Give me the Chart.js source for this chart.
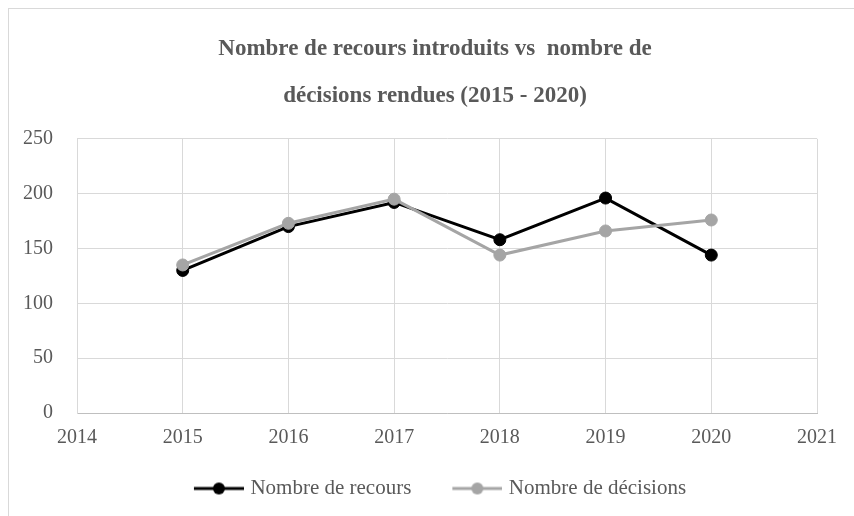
<!DOCTYPE html>
<html>
<head>
<meta charset="utf-8">
<script src="https://cdn.jsdelivr.net/npm/chart.js@4"></script>
<style>
    html, body { margin: 0; padding: 0; background: #fff; }
    #wrap { position: relative; width: 854px; height: 516px; }
    #frame { position: absolute; left: 8px; top: 8px; right: 0; bottom: 0; border-left: 1px solid #d9d9d9; border-top: 1px solid #d9d9d9; }
    canvas { position: absolute; left: 0; top: 0; }
</style>
</head>
<body>
<div id="wrap">
    <div id="frame"></div>
    <canvas id="chart" width="854" height="516"></canvas>
</div>
<script>
// data
const years = [2015, 2016, 2017, 2018, 2019, 2020];
const recours = [130, 170, 192, 158, 196, 144];
const decisions = [135, 173, 195, 144, 166, 176];
const yTicks = [0, 50, 100, 150, 200, 250];
const xMin = 2014;
const xMax = 2021;

const FONT = "'Liberation Serif', 'Times New Roman', serif";
const TEXT = '#595959';
const GRID = '#d9d9d9';
const BLACK = '#000000';
const GRAY = '#a5a5a5';

// "line with a dot" marker like the Excel legend; left part of the image is blank
// so the legend items sit further apart
function legendMarker(color) {
    const c = document.createElement('canvas');
    c.width = 64;
    c.height = 14;
    const g = c.getContext('2d');
    g.strokeStyle = color;
    g.lineWidth = 3;
    g.beginPath();
    g.moveTo(14, 7);
    g.lineTo(64, 7);
    g.stroke();
    g.fillStyle = color;
    g.beginPath();
    g.arc(39, 7, 6, 0, Math.PI * 2);
    g.fill();
    return c;
}

const series = [
    { label: 'Nombre de recours', values: recours, color: BLACK, order: 2 },
    { label: 'Nombre de décisions', values: decisions, color: GRAY, order: 1 }
];

new Chart(document.getElementById('chart').getContext('2d'), {
    type: 'line',
    data: {
        datasets: series.map(s => ({
            label: s.label,
            data: years.map((y, i) => ({ x: y, y: s.values[i] })),
            borderColor: s.color,
            backgroundColor: s.color,
            pointBackgroundColor: s.color,
            pointBorderColor: s.color,
            borderWidth: 3,
            pointRadius: 6,
            pointBorderWidth: 1,
            tension: 0,
            fill: false,
            order: s.order
        }))
    },
    options: {
        responsive: false,
        animation: false,
        layout: { padding: { top: 18, right: 0, bottom: 7, left: 16 } },
        scales: {
            x: {
                type: 'linear',
                min: xMin,
                max: xMax,
                afterFit: axis => { axis.height = 34; },
                ticks: {
                    stepSize: 1,
                    padding: 13,
                    color: TEXT,
                    font: { family: FONT, size: 20 },
                    callback: v => String(v)
                },
                grid: { color: GRID, lineWidth: 1, drawTicks: false },
                border: { color: '#bfbfbf', width: 1 }
            },
            y: {
                min: 0,
                max: 250,
                afterBuildTicks: axis => { axis.ticks = yTicks.map(v => ({ value: v })); },
                afterFit: axis => { axis.width = 61; },
                ticks: {
                    padding: 24,
                    color: TEXT,
                    font: { family: FONT, size: 20 }
                },
                grid: { color: GRID, lineWidth: 1, drawTicks: false },
                border: { color: GRID, width: 1 }
            },
            // empty axis on the right, only there to hold the right margin
            yRight: {
                position: 'right',
                display: true,
                afterFit: axis => { axis.width = 37; },
                ticks: { display: false },
                grid: { display: false, drawTicks: false },
                border: { display: false }
            }
        },
        plugins: {
            title: {
                display: true,
                text: ['Nombre de recours introduits vs  nombre de', 'décisions rendues (2015 - 2020)'],
                color: TEXT,
                font: { family: FONT, size: 23, weight: 'bold', lineHeight: 2.04 },
                padding: { top: 8, bottom: 19 }
            },
            legend: {
                position: 'bottom',
                labels: {
                    color: TEXT,
                    font: { family: FONT, size: 21 },
                    padding: 31,
                    usePointStyle: true,
                    pointStyleWidth: 56,
                    generateLabels: chart => series.map((s, i) => ({
                        text: s.label,
                        fillStyle: s.color,
                        strokeStyle: s.color,
                        fontColor: TEXT,
                        pointStyle: legendMarker(s.color),
                        lineWidth: 0,
                        hidden: false,
                        datasetIndex: i
                    }))
                }
            },
            tooltip: { enabled: false }
        }
    }
});
</script>
</body>
</html>
